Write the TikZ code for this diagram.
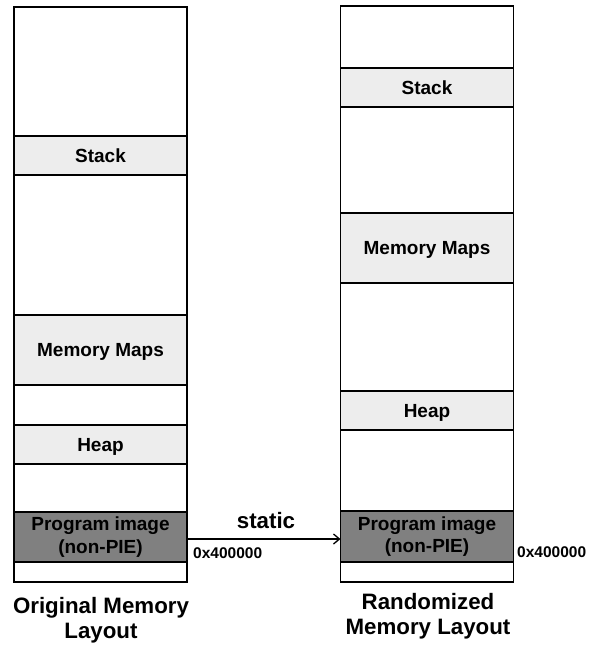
\documentclass[tikz,border=0pt]{standalone}
\usepackage{fontspec}
\setmainfont{Liberation Sans}
\usetikzlibrary{arrows.meta}
\definecolor{segfill}{HTML}{EDEDED}
\definecolor{progfill}{HTML}{808080}
\begin{document}
\begin{tikzpicture}[x=1pt,y=-1pt,
  col/.style={draw, line width=1.3pt, inner sep=0pt, outer sep=0pt, minimum width=173pt},
  seg/.style={col, fill=segfill, font=\fontsize{19}{21}\selectfont\bfseries, text height=13.6pt, text depth=0pt},
  prog/.style={col, fill=progfill, font=\fontsize{19}{22.4}\selectfont\bfseries, align=center},
  addr/.style={font=\fontsize{15.5}{17}\selectfont\bfseries, anchor=west, inner sep=0pt},
  title/.style={font=\fontsize{22.3}{25}\selectfont\bfseries, align=center}]
\useasboundingbox (0,0) rectangle (598,648);
% left column
\node[col, minimum height=575pt] (colL) at (100.5,294.5) {};
\node[seg, minimum height=39pt] (stackL) at (100.5,155.5) {Stack};
\node[seg, minimum height=70pt] (mmL) at (100.5,350) {Memory Maps};
\node[seg, minimum height=39pt] (heapL) at (100.5,444.5) {Heap};
\node[prog, minimum height=50pt] (progL) at (100.5,537) {Program image\\(non-PIE)};
% right column
\node[col, minimum height=576pt] (colR) at (427,294) {};
\node[seg, minimum height=39pt] (stackR) at (427,87.5) {Stack};
\node[seg, minimum height=70pt] (mmR) at (427,248) {Memory Maps};
\node[seg, minimum height=39pt] (heapR) at (427,410.5) {Heap};
\node[prog, minimum height=51pt] (progR) at (427,536.5) {Program image\\(non-PIE)};
% arrow
\coordinate (aL) at ([yshift=-2pt]progL.east);
\draw[line width=1.3pt, -{Straight Barb[length=6pt,width=10pt,line width=1.3pt]}] (aL) -- (aL -| progR.west);
\node[font=\fontsize{22.3}{24}\selectfont\bfseries] (static) at (266,521) {static};
\node[addr] (addrL) at (193,553) {0x400000};
\node[addr] (addrR) at (517,552) {0x400000};
% titles
\node[title] (titleL) at (101,620) {Original Memory\\Layout};
\node[title] (titleR) at (428,616) {Randomized\\Memory Layout};
\end{tikzpicture}
\end{document}
